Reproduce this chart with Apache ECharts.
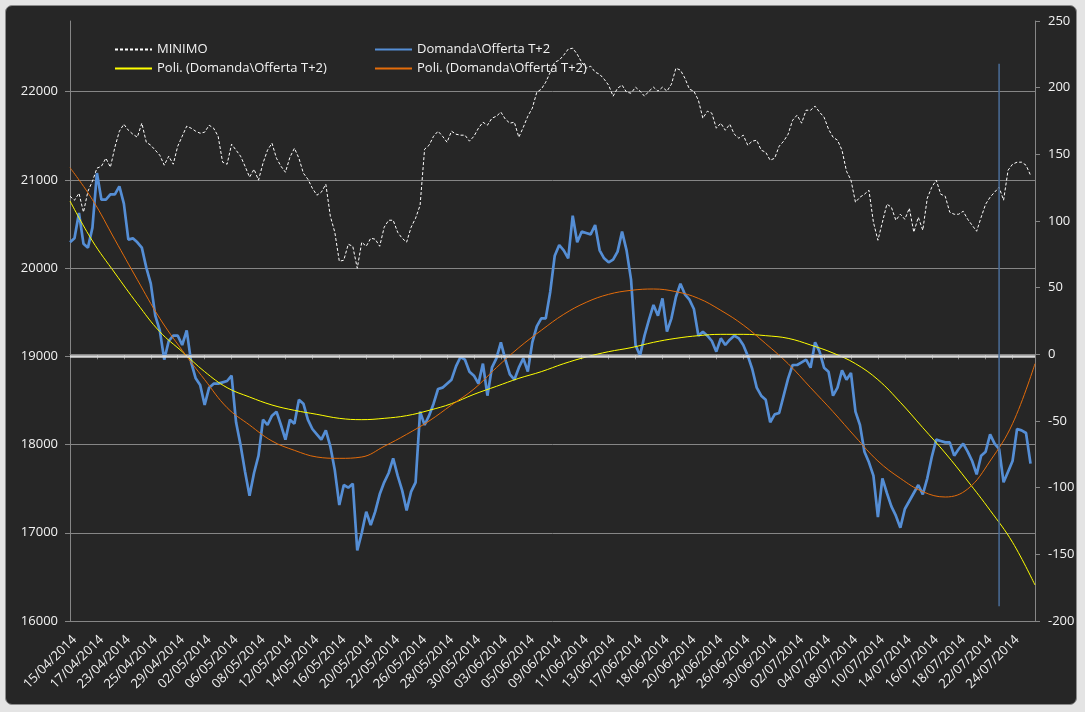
<!DOCTYPE html>
<html><head><meta charset="utf-8">
<script src="https://cdn.jsdelivr.net/npm/echarts@6/dist/echarts.min.js"></script>
<style>
html,body{margin:0;padding:0;background:#e4e4e4;width:1085px;height:712px;overflow:hidden;}
#frame{position:absolute;left:5px;top:5px;width:1070px;height:698px;background:#262626;border:1px solid #8c8c8c;border-radius:7px;}
#chart{position:absolute;left:0;top:0;width:1085px;height:712px;}
</style></head><body>
<div id="frame"></div><div id="chart"></div>
<script>
const dateLabels = ['15/04/2014','17/04/2014','23/04/2014','25/04/2014','29/04/2014','02/05/2014','06/05/2014','08/05/2014','12/05/2014','14/05/2014','16/05/2014','20/05/2014','22/05/2014','26/05/2014','28/05/2014','30/05/2014','03/06/2014','05/06/2014','09/06/2014','11/06/2014','13/06/2014','17/06/2014','18/06/2014','20/06/2014','24/06/2014','26/06/2014','30/06/2014','02/07/2014','04/07/2014','08/07/2014','10/07/2014','14/07/2014','16/07/2014','18/07/2014','22/07/2014','24/07/2014'];
const SUBSTEPS = 6;   // readings per labelled date
const TREND_STEP = 5; // trend readings every 5 readings

const minimo = [
20814,20769,20848,20633,20871,20984, 21132,21154,21245,21143,21370,21551,
21630,21562,21517,21483,21642,21426, 21392,21336,21279,21166,21268,21177,
21381,21494,21608,21585,21551,21528, 21540,21619,21585,21494,21200,21177,
21404,21336,21268,21154,21030,21120, 20996,21188,21336,21415,21245,21154,
21086,21256,21358,21245,21075,21007, 20905,20826,20860,20950,20587,20406,
20077,20089,20270,20247,19998,20293, 20247,20338,20327,20247,20463,20542,
20542,20406,20338,20293,20463,20565, 20712,21347,21392,21494,21551,21494,
21426,21551,21517,21506,21506,21438, 21494,21585,21653,21619,21698,21721,
21767,21687,21642,21653,21483,21596, 21721,21812,21993,22027,22107,22220,
22333,22356,22413,22481,22492,22424, 22333,22265,22288,22220,22197,22141,
22073,21948,22039,22073,21993,21982, 22050,22005,21948,22005,22050,22005,
22050,22005,22084,22265,22243,22152, 22027,22005,21903,21698,21778,21755,
21585,21642,21562,21630,21517,21472, 21506,21392,21438,21449,21336,21313,
21222,21245,21381,21438,21517,21676, 21733,21642,21789,21789,21835,21767,
21710,21574,21483,21449,21336,21098, 20996,20746,20803,20837,20882,20519,
20315,20519,20724,20690,20542,20610, 20553,20678,20406,20576,20429,20792,
20916,20996,20837,20814,20633,20610, 20610,20644,20553,20485,20417,20576,
20724,20803,20860,20916,20769,21109, 21177,21200,21200,21166,21052,null];

const domandaOfferta = [
84,87,106,83,80,95, 136,116,116,120,120,126,
113,86,87,84,80,65, 53,29,18,-4,10,14,
14,7,18,-6,-18,-23, -38,-25,-22,-22,-21,-20,
-16,-51,-68,-88,-106,-89, -76,-49,-53,-46,-43,-53,
-64,-49,-52,-34,-37,-49, -56,-60,-64,-57,-69,-87,
-113,-98,-100,-97,-147,-134, -118,-128,-118,-105,-96,-89,
-78,-91,-102,-117,-103,-96, -43,-53,-46,-37,-26,-25,
-22,-19,-9,-2,-4,-13, -16,-22,-7,-31,-10,-3,
9,-4,-15,-19,-10,-3, -13,9,21,27,27,47,
74,82,78,72,104,84, 92,91,90,97,78,72,
69,71,77,92,78,56, 7,-1,14,26,37,29,
42,17,27,43,53,45, 41,34,14,17,14,10,
2,12,7,11,14,12, 7,-1,-11,-25,-31,-34,
-51,-45,-44,-31,-18,-8, -8,-6,-4,-10,9,2,
-10,-13,-31,-25,-12,-19, -14,-43,-53,-73,-81,-91,
-122,-93,-104,-114,-121,-130, -116,-110,-104,-98,-105,-93,
-77,-64,-65,-66,-66,-76, -71,-67,-73,-80,-90,-76,
-73,-60,-67,-71,-96,-88, -80,-56,-57,-59,-82,null];

const trendYellow = [115,85,61,38,17,2,-13,-25,-32,-38,-42,-45,-48,-49,-48,-46,-42,-37,-30,-24,-18,-13,-7,-2,2,5,9,12,14,15,15,14,12,7,1,-7,-19,-36,-55,-74,-95,-117,-141,-173];
const trendOrange = [140,116,86,56,27,3,-19,-40,-53,-65,-72,-77,-78,-77,-69,-60,-50,-38,-26,-10,5,18,30,39,45,48,49,47,42,33,22,8,-7,-25,-43,-62,-80,-93,-103,-107,-101,-80,-52,-7];

const leftAxisTicks = [16000,17000,18000,19000,20000,21000,22000];
const leftAxisTop = 22800;
const rightAxisTicks = [-200,-150,-100,-50,0,50,100,150,200,250];
const baseLevel = 19000;
const markerIndex = 207;
const markerRange = [218, -189];

const NAME_MIN = 'MINIMO';
const NAME_DO = 'Domanda\\Offerta T+2';
const NAME_P1 = 'Poli. (Domanda\\Offerta T+2)';
const NAME_P2 = 'Poli. (Domanda\\Offerta T+2) ';

const categories = [];
dateLabels.forEach(d => { for (let s = 0; s < SUBSTEPS; s++) categories.push(s === 0 ? d : d + ' +' + s); });
const sparse = arr => categories.map((_, i) => i % TREND_STEP === 0 ? arr[i / TREND_STEP] : null);

const FONT = 'Open Sans';
const TXT = '#f2f2f2';
const GRID = '#868686';

const chart = echarts.init(document.getElementById('chart'), null, {renderer: 'canvas'});
const leftColors = leftAxisTicks.map(() => GRID).concat(['rgba(0,0,0,0)']);
const legendText = {color: TXT, fontSize: 13, fontFamily: FONT};
const legendCommon = {orient: 'vertical', top: 43, padding: 0, itemWidth: 37, itemHeight: 14, itemGap: 6, selectedMode: false,
  textStyle: legendText, itemStyle: {opacity: 0}};
chart.setOption({
  animation: false,
  backgroundColor: 'transparent',
  grid: {left: 70, right: 50, top: 21, bottom: 91, containLabel: false},
  legend: [
    Object.assign({left: 114, data: [NAME_MIN, NAME_P1]}, legendCommon),
    Object.assign({left: 374, data: [NAME_DO, NAME_P2]}, legendCommon)
  ],
  xAxis: {
    type: 'category', data: categories, boundaryGap: false,
    axisLine: {show: true, lineStyle: {color: GRID, width: 1}},
    axisTick: {show: true, interval: SUBSTEPS - 1, length: 5, lineStyle: {color: GRID}},
    axisLabel: {interval: SUBSTEPS - 1, rotate: 45, color: TXT, fontSize: 13, fontFamily: FONT, margin: 12,
      verticalAlign: 'top',
      formatter: v => v.indexOf('+') >= 0 ? '' : v},
    splitLine: {show: false}
  },
  yAxis: [
    {type: 'value', min: leftAxisTicks[0], max: leftAxisTop, interval: leftAxisTicks[1] - leftAxisTicks[0],
      axisLine: {show: true, lineStyle: {color: GRID}},
      axisTick: {show: true, length: 5, lineStyle: {color: GRID}},
      axisLabel: {color: TXT, fontSize: 13, fontFamily: FONT, margin: 12, showMaxLabel: false, formatter: v => String(v)},
      splitLine: {show: true, lineStyle: {color: leftColors, width: 1}}},
    {type: 'value', min: rightAxisTicks[0], max: rightAxisTicks[rightAxisTicks.length - 1], interval: rightAxisTicks[1] - rightAxisTicks[0],
      position: 'right',
      axisLine: {show: true, lineStyle: {color: GRID}},
      axisTick: {show: true, length: 5, lineStyle: {color: GRID}},
      axisLabel: {color: TXT, fontSize: 13, fontFamily: FONT, margin: 13, formatter: v => String(v)},
      splitLine: {show: false}}
  ],
  series: [
    {name: 'base', type: 'line', yAxisIndex: 0, data: [], z: 1, silent: true,
      markLine: {silent: true, symbol: 'none', label: {show: false}, lineStyle: {color: '#d9d9d9', width: 2.5, type: 'solid'}, data: [{yAxis: baseLevel}]}},
    {name: NAME_MIN, type: 'line', yAxisIndex: 0, data: minimo, symbol: 'none', z: 2,
      lineStyle: {color: '#ffffff', width: 1, type: [3, 2]}, itemStyle: {color: '#ffffff'}},
    {name: NAME_DO, type: 'line', yAxisIndex: 1, data: domandaOfferta, symbol: 'none', z: 3,
      lineStyle: {color: '#558ed5', width: 2.7}, itemStyle: {color: '#558ed5'}},
    {name: NAME_P1, type: 'line', yAxisIndex: 1, data: sparse(trendYellow), connectNulls: true, smooth: 0.4, symbol: 'none', z: 4,
      lineStyle: {color: '#ffff00', width: 1}, itemStyle: {color: '#ffff00'}},
    {name: NAME_P2, type: 'line', yAxisIndex: 1, data: sparse(trendOrange), connectNulls: true, smooth: 0.4, symbol: 'none', z: 4,
      lineStyle: {color: '#e46c0a', width: 1}, itemStyle: {color: '#e46c0a'}},
    {name: 'marker', type: 'line', yAxisIndex: 1, data: markerRange.map(v => [markerIndex, v]), symbol: 'none', z: 5, silent: true,
      lineStyle: {color: '#4a6d98', width: 1.5}}
  ]
});
</script></body></html>
